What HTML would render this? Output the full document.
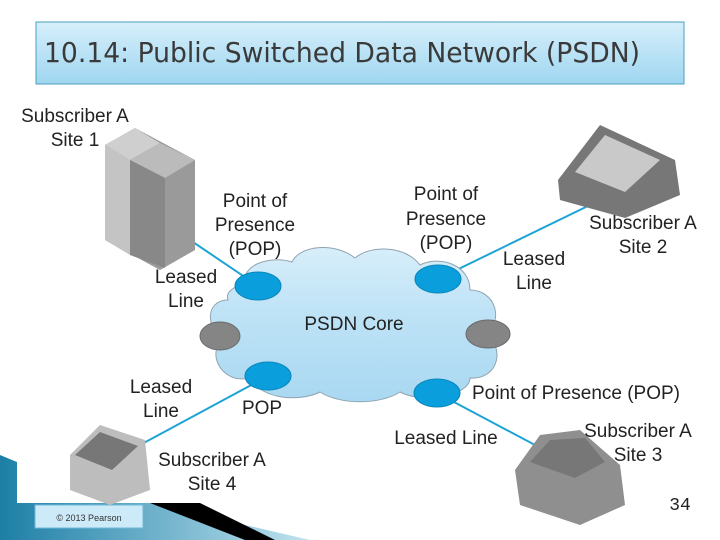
<!DOCTYPE html>
<html><head><style>
body{margin:0;width:720px;height:540px;overflow:hidden;background:#fff;font-family:"Liberation Sans",sans-serif}
svg{display:block}
</style></head><body>
<svg width="720" height="540" viewBox="0 0 720 540" xmlns="http://www.w3.org/2000/svg">
<defs>
<linearGradient id="tg" x1="0" y1="0" x2="0" y2="1"><stop offset="0" stop-color="#d6effb"/><stop offset="1" stop-color="#9fd6f0"/></linearGradient>
<linearGradient id="cg" x1="0" y1="0" x2="0" y2="1"><stop offset="0" stop-color="#d8eefa"/><stop offset="0.4" stop-color="#bfe3f6"/><stop offset="1" stop-color="#a9d8f2"/></linearGradient>
<linearGradient id="bg2" x1="0" y1="0" x2="1" y2="0"><stop offset="0" stop-color="#1d7fa6"/><stop offset="1" stop-color="#bfe3ef"/></linearGradient>
</defs>
<polygon points="0,455 17,462 17,503 150,503 310,540 0,540" fill="url(#bg2)"/>
<polygon points="150,503 200,503 275,540 245,540" fill="#000"/>
<rect x="35" y="505" width="108" height="23" fill="#cdeaf8" stroke="#6fb9d8"/>
<text x="89" y="521" font-size="9" text-anchor="middle" fill="#333">© 2013 Pearson</text>
<text x="680" y="510" font-size="18" text-anchor="middle" fill="#222" font-family="Liberation Mono,monospace">34</text>
<rect x="36" y="22" width="648" height="62" fill="url(#tg)" stroke="#4aa0bd"/>
<text x="44" y="62" font-size="28" fill="#3a3a3a" font-family="DejaVu Sans,sans-serif" textLength="596" lengthAdjust="spacingAndGlyphs">10.14: Public Switched Data Network (PSDN)</text>
<g stroke="#1ea3d6" stroke-width="2">
<line x1="190" y1="240" x2="258" y2="286"/>
<line x1="438" y1="279" x2="590" y2="205"/>
<line x1="268" y1="376" x2="140" y2="445"/>
<line x1="437" y1="393" x2="535" y2="445"/>
</g>
<path d="M228,300 C205,300 205,330 225,338 C205,350 220,385 250,378 C262,400 300,402 320,392 C340,405 380,405 400,392 C425,405 470,395 470,378 C500,380 505,345 485,335 C505,320 495,290 470,290 C470,265 440,255 420,265 C405,245 370,245 355,258 C335,242 300,245 292,262 C270,255 240,265 245,285 C235,285 225,292 228,300 Z" fill="url(#cg)" stroke="#8fa4b0" stroke-width="1"/>
<text x="354" y="330" font-size="19" text-anchor="middle" fill="#222">PSDN Core</text>
<g fill="#0a9fdc" stroke="#0a86ba">
<ellipse cx="258" cy="286" rx="23" ry="14"/>
<ellipse cx="438" cy="279" rx="23" ry="14"/>
<ellipse cx="268" cy="376" rx="23" ry="14"/>
<ellipse cx="437" cy="393" rx="23" ry="14"/>
</g>
<g fill="#858585" stroke="#6a6a6a">
<ellipse cx="220" cy="336" rx="20" ry="14"/>
<ellipse cx="488" cy="334" rx="22" ry="14"/>
</g>
<g>
<polygon points="105,145 135,128 195,160 195,250 160,270 105,240" fill="#9a9a9a"/>
<polygon points="105,145 135,128 160,143 130,160" fill="#cfcfcf"/>
<polygon points="130,160 160,143 195,160 165,178" fill="#bbb"/>
<polygon points="105,145 130,160 130,255 105,240" fill="#c4c4c4"/>
<polygon points="130,160 165,178 165,268 130,255" fill="#888"/>
<polygon points="558,180 600,125 675,160 680,195 625,218 560,200" fill="#777"/>
<polygon points="575,172 605,135 660,160 625,192" fill="#c9c9c9"/>
<polygon points="70,455 100,425 145,440 150,490 110,505 70,490" fill="#bdbdbd"/>
<polygon points="75,455 100,432 138,446 112,470" fill="#777"/>
<polygon points="515,470 540,435 580,430 620,465 625,505 580,525 520,505" fill="#8f8f8f"/>
<polygon points="530,462 550,440 585,438 605,462 575,478" fill="#777"/>
</g>
<g font-size="19" fill="#222" text-anchor="middle">
<text x="75" y="122">Subscriber A</text><text x="75" y="146">Site 1</text>
<text x="255" y="207">Point of</text><text x="255" y="231">Presence</text><text x="255" y="255">(POP)</text>
<text x="186" y="283">Leased</text><text x="186" y="307">Line</text>
<text x="446" y="200">Point of</text><text x="446" y="225">Presence</text><text x="446" y="249">(POP)</text>
<text x="643" y="229">Subscriber A</text><text x="643" y="253">Site 2</text>
<text x="534" y="265">Leased</text><text x="534" y="289">Line</text>
<text x="161" y="393">Leased</text><text x="161" y="417">Line</text>
<text x="262" y="414">POP</text>
<text x="576" y="399">Point of Presence (POP)</text>
<text x="446" y="444">Leased Line</text>
<text x="638" y="437">Subscriber A</text><text x="638" y="461">Site 3</text>
<text x="212" y="466">Subscriber A</text><text x="212" y="490">Site 4</text>
</g>
</svg>
</body></html>
